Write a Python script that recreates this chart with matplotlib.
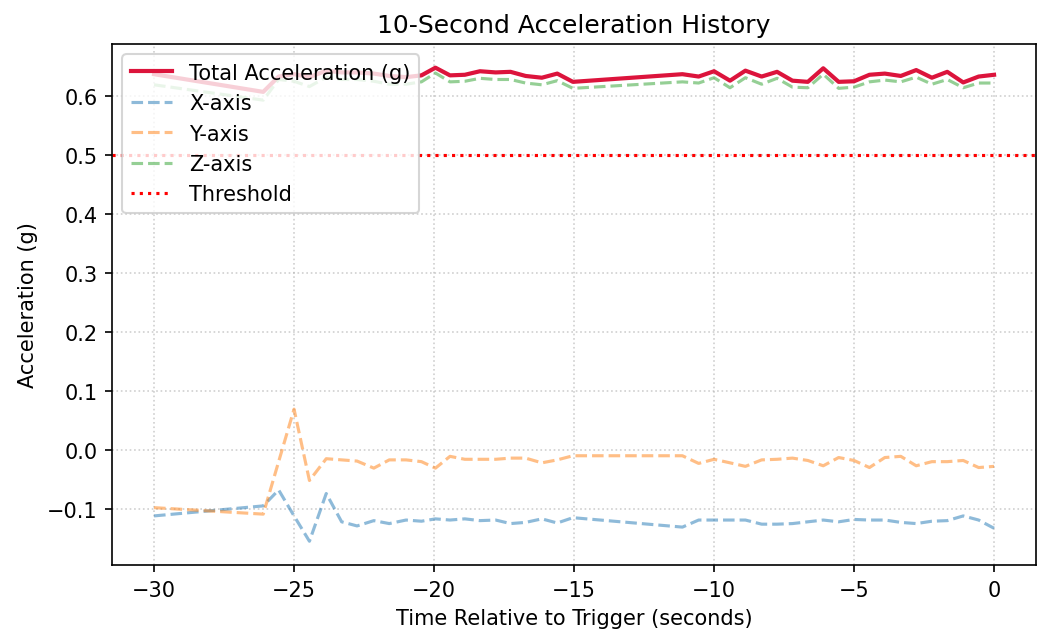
import matplotlib
matplotlib.use("Agg")
import matplotlib.pyplot as plt

# Time relative to trigger (seconds)
t = [-30.0,
     -26.1, -25.55, -25.0, -24.45, -23.85, -23.3, -22.75, -22.15, -21.6, -21.0, -20.45,
     -19.95, -19.43, -18.9, -18.36, -17.8, -17.27, -16.73, -16.15, -15.6, -15.04,
     -11.13, -10.55, -10.0, -9.43, -8.88, -8.3, -7.75, -7.2, -6.65, -6.1, -5.55,
     -5.0, -4.45, -3.9, -3.33, -2.78, -2.22, -1.67, -1.1, -0.55, 0.0]

total = [0.637,
         0.607, 0.633, 0.637, 0.632, 0.643, 0.640, 0.640, 0.638, 0.634, 0.632, 0.635,
         0.648, 0.635, 0.636, 0.642, 0.640, 0.641, 0.634, 0.631, 0.638, 0.624,
         0.637, 0.633, 0.642, 0.626, 0.643, 0.633, 0.641, 0.626, 0.624, 0.647, 0.624,
         0.625, 0.636, 0.638, 0.634, 0.644, 0.631, 0.641, 0.623, 0.633, 0.636]

x_axis = [-0.112,
          -0.095, -0.068, -0.112, -0.155, -0.074, -0.122, -0.129, -0.120, -0.125, -0.119, -0.121,
          -0.117, -0.119, -0.117, -0.120, -0.119, -0.125, -0.123, -0.117, -0.124, -0.115,
          -0.131, -0.119, -0.119, -0.119, -0.119, -0.126, -0.126, -0.125, -0.122, -0.119, -0.122,
          -0.118, -0.119, -0.119, -0.123, -0.125, -0.121, -0.120, -0.112, -0.119, -0.133]

y_axis = [-0.098,
          -0.109, -0.020, 0.069, -0.052, -0.015, -0.017, -0.019, -0.031, -0.017, -0.017, -0.020,
          -0.031, -0.011, -0.016, -0.016, -0.016, -0.014, -0.014, -0.022, -0.017, -0.010,
          -0.010, -0.023, -0.016, -0.022, -0.028, -0.017, -0.016, -0.014, -0.018, -0.027, -0.013,
          -0.018, -0.030, -0.013, -0.011, -0.027, -0.020, -0.020, -0.018, -0.030, -0.028]

z_axis = [0.619,
          0.593, 0.628, 0.625, 0.616, 0.632, 0.628, 0.628, 0.625, 0.620, 0.620, 0.624,
          0.639, 0.624, 0.625, 0.630, 0.628, 0.628, 0.622, 0.619, 0.626, 0.613,
          0.624, 0.622, 0.631, 0.614, 0.631, 0.620, 0.630, 0.615, 0.614, 0.637, 0.613,
          0.615, 0.624, 0.627, 0.624, 0.632, 0.620, 0.628, 0.614, 0.622, 0.622]

threshold = 0.5

fig = plt.figure(figsize=(7.02, 4.2933), dpi=150)
ax = fig.add_axes([0.1064, 0.1212, 0.8775, 0.8089])

ax.plot(t, total, color='crimson', linewidth=2, label='Total Acceleration (g)')
ax.plot(t, x_axis, '--', alpha=0.5, linewidth=1.5, label='X-axis')
ax.plot(t, y_axis, '--', alpha=0.5, linewidth=1.5, label='Y-axis')
ax.plot(t, z_axis, '--', alpha=0.5, linewidth=1.5, label='Z-axis')
ax.axhline(threshold, color='red', linestyle=':', linewidth=1.5, label='Threshold')

ax.set_title('10-Second Acceleration History')
ax.set_xlabel('Time Relative to Trigger (seconds)')
ax.set_ylabel('Acceleration (g)')
ax.legend(loc='upper left')
ax.grid(True, linestyle=':', alpha=0.6)

fig.savefig('out.png', dpi=150)
